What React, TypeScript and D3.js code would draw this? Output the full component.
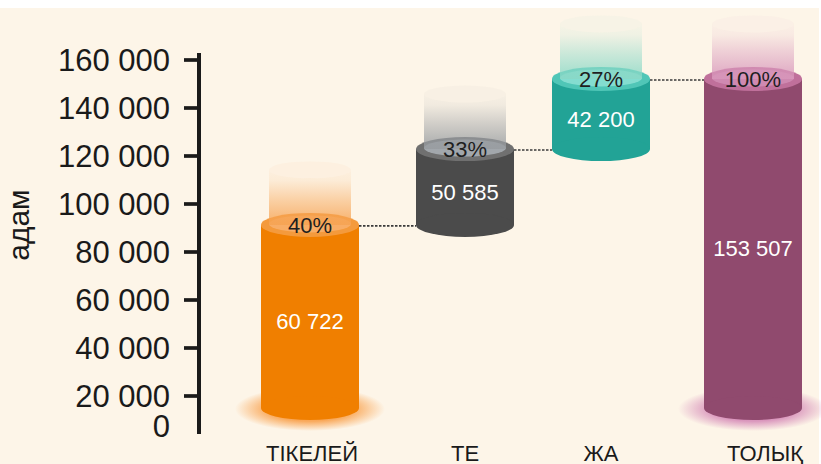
import React from "react";
import * as d3 from "d3";

const categories = ["ТІКЕЛЕЙ", "ТЕ", "ЖА", "ТОЛЫҚ"];
const valueLabels = [60722, 50585, 42200, 153507];
const percentLabels = [40, 33, 27, 100];
// cylinder extents, in axis units (persons)
const cylinderBase = [12000, 91300, 122900, 12000];
const cylinderTop = [91300, 122900, 152100, 152100];
const tickValues = [0, 20000, 40000, 60000, 80000, 100000, 120000, 140000, 160000];
const axisTitle = "адам";

const palette = [
  { body: "#F07F00", rim: "#F49A3C", inner: "#F8AD66", ghost: "#F6A352", glow: "#F9A04A" },
  { body: "#4B4B4B", rim: "#707070", inner: "#A2A7AC", ghost: "#989CA0", glow: null },
  { body: "#22A396", rim: "#50C6B7", inner: "#84DDD0", ghost: "#8AD8C6", glow: null },
  { body: "#904A6E", rim: "#C0709B", inner: "#CF89B1", ghost: "#D897BB", glow: "#D68CB8" },
];
const glowFlags = [true, false, false, true];

const W = 821;
const H = 464;
const fmt = (v: number) => d3.format(",")(v).replace(/,/g, " ");

export default function App() {
  const y = d3.scaleLinear().domain([0, 20000, 160000]).range([426, 396, 60]);
  const x = d3.scaleOrdinal<string, number>().domain(categories).range([310, 465, 601, 753]);
  const labelDx = [2, 0, 0, 12];
  const rx = 49;
  const ry = 12;
  const irx = 41;
  const iry = 8.5;
  const ghostH = 55;
  const font = "'Liberation Sans', Arial, sans-serif";

  return (
    <svg width={W} height={H} style={{ position: "absolute", left: 0, top: 0 }} fontFamily={font}>
      <defs>
        {palette.map((p, i) => (
          <React.Fragment key={i}>
            <linearGradient id={`ghost${i}`} x1="0" y1="1" x2="0" y2="0">
              <stop offset="0%" stopColor={p.ghost} stopOpacity={0.85} />
              <stop offset="45%" stopColor={p.ghost} stopOpacity={0.45} />
              <stop offset="80%" stopColor={p.ghost} stopOpacity={0.12} />
              <stop offset="100%" stopColor={p.ghost} stopOpacity={0.06} />
            </linearGradient>
            {p.glow && (
              <radialGradient id={`glow${i}`} cx="0.5" cy="0.5" r="0.5">
                <stop offset="0%" stopColor={p.glow} stopOpacity={1} />
                <stop offset="55%" stopColor={p.glow} stopOpacity={0.9} />
                <stop offset="100%" stopColor={p.glow} stopOpacity={0} />
              </radialGradient>
            )}
          </React.Fragment>
        ))}
      </defs>
      <rect x={0} y={0} width={W} height={H} fill="#ffffff" />
      <rect x={0} y={8} width={819} height={H - 8} fill="#FDF5E8" />

      {/* axis */}
      <line x1={199} x2={199} y1={53} y2={434} stroke="#1a1a1a" strokeWidth={4} />
      {tickValues.map((t) => (
        <g key={t}>
          {t !== 0 && <line x1={184} x2={199} y1={y(t)} y2={y(t)} stroke="#1a1a1a" strokeWidth={3.7} />}
          <text x={170} y={y(t) + 11} textAnchor="end" fontSize={31} fill="#1a1a1a">
            {fmt(t)}
          </text>
        </g>
      ))}
      <text transform={`translate(29,225) rotate(-90)`} textAnchor="middle" fontSize={30} fill="#1a1a1a">
        {axisTitle}
      </text>

      {/* connectors */}
      {categories.slice(0, -1).map((c, i) => {
        const x1 = x(c) + rx;
        const x2 = x(categories[i + 1]) - rx;
        const yy = y(cylinderTop[i]) + 1;
        return (
          <line key={c} x1={x1} x2={x2} y1={yy} y2={yy} stroke="#3a3a3a" strokeWidth={1.6} strokeDasharray="2.5 1.5" />
        );
      })}

      {categories.map((c, i) => {
        const cx = x(c);
        const yt = y(cylinderTop[i]);
        const yb = y(cylinderBase[i]);
        const p = palette[i];
        const gTop = yt - ghostH;
        const ghostPath = `M${cx - irx},${yt} L${cx - irx},${gTop} A${irx},${iry} 0 0 0 ${cx + irx},${gTop} L${cx + irx},${yt} Z`;
        return (
          <g key={c}>
            {glowFlags[i] && <ellipse cx={cx} cy={yb + 1} rx={75} ry={22} fill={`url(#glow${i})`} />}
            <rect x={cx - rx} y={yt} width={rx * 2} height={yb - yt} fill={p.body} />
            <ellipse cx={cx} cy={yb} rx={rx} ry={ry} fill={p.body} />
            <ellipse cx={cx} cy={yt} rx={rx} ry={ry} fill={p.rim} />
            <ellipse cx={cx} cy={yt - 1} rx={irx} ry={iry} fill={p.inner} />
            <path d={ghostPath} fill={`url(#ghost${i})`} />
            <ellipse cx={cx} cy={gTop} rx={irx} ry={iry} fill={p.ghost} fillOpacity={0.05} />
            <text x={cx} y={yt + 8} textAnchor="middle" fontSize={22} fill="#1f1f1f">
              {percentLabels[i]}%
            </text>
            <text x={cx} y={(yt + yb) / 2 + 13} textAnchor="middle" fontSize={22} fill="#ffffff">
              {fmt(valueLabels[i])}
            </text>
            <text x={cx + labelDx[i]} y={461} textAnchor="middle" fontSize={22} fill="#1a1a1a">
              {c}
            </text>
          </g>
        );
      })}
    </svg>
  );
}
